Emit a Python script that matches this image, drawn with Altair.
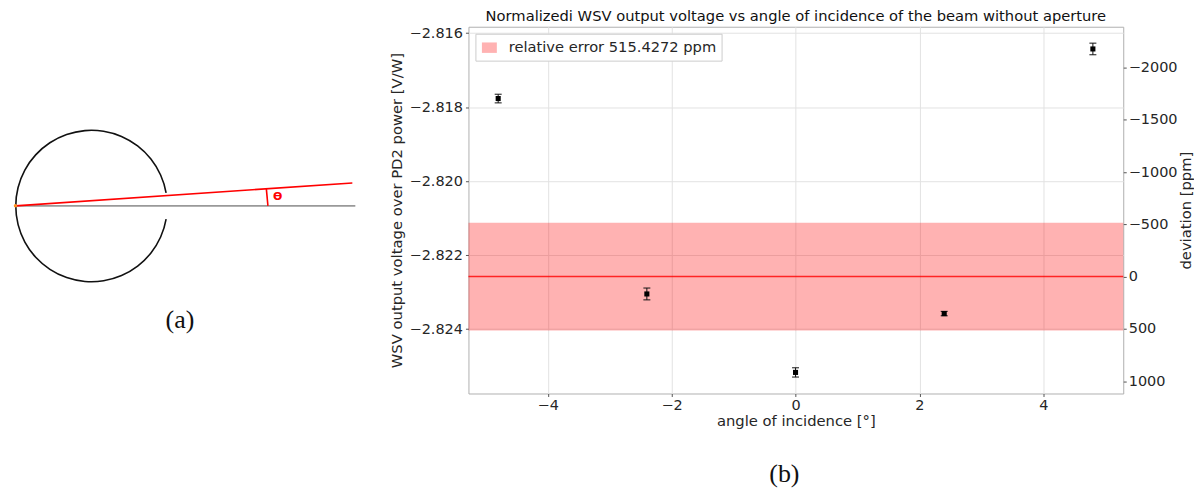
import altair as alt
import pandas as pd

# --- panel (b) data
angle = [-4.8, -2.4, 0.0, 2.4, 4.8]
voltage = [-2.81777, -2.82305, -2.82517, -2.82358, -2.81643]
err = [0.000117, 0.00016, 0.000125, 0.00006, 0.000157]
mean_v = -2.82258
rel_err_v = 0.001455
deviation = [-1698, 172, 923, 360, -2180]
x_dom = [-5.28, 5.29]
y_dom = [-2.82574, -2.81583]
ppm_dom = [1119, -2392]
legend_label = "relative error 515.4272 ppm"

# --- panel (a) data (diagram units)
gray_x = [15, 356]
gray_y = [205, 205]
red_x = [15, 353]
red_y = [205, 182]
ang_x = [266.7, 268.3]
ang_y = [187.7, 205]
circle_x = [91.3]
circle_y = [205.2]
diag_x = [8.5, 368.5]
diag_y = [393.3, 25.3]

TXT = "#262626"
GRID = "#e2e2e2"

pts = pd.DataFrame({"a": angle, "v": voltage, "e": err, "d": deviation})
pts["lo"] = pts.v - pts.e
pts["hi"] = pts.v + pts.e

xs = alt.Scale(domain=x_dom, nice=False, zero=False)
ys = alt.Scale(domain=y_dom, nice=False, zero=False)
xax = alt.Axis(title="angle of incidence [°]", grid=True, gridColor=GRID,
               values=[-4, -2, 0, 2, 4], format="d", tickColor="#555555", tickSize=3,
               domain=False, labelFontSize=14.5, titleFontSize=14.8, titleFontWeight="normal", labelPadding=2,
               titlePadding=2, labelColor=TXT, titleColor=TXT)
Xn = alt.X("a:Q", scale=xs, axis=xax)

base = alt.Chart(pts).mark_point(opacity=0).encode(
    x=Xn,
    y=alt.Y("v:Q", scale=ys, axis=alt.Axis(title="WSV output voltage over PD2 power [V/W]", grid=True, gridColor=GRID,
                                           values=[-2.816, -2.818, -2.82, -2.822, -2.824], format=".3f",
                                           tickColor="#555555", tickSize=3, domain=False, labelFontSize=14.5,
                                           titleFontSize=14.8, titleFontWeight="normal", labelPadding=3, titlePadding=5,
                                           labelColor=TXT, titleColor=TXT)),
)

band = alt.Chart(pd.DataFrame({"x": [x_dom[0]], "x2": [x_dom[1]], "y": [mean_v - rel_err_v], "y2": [mean_v + rel_err_v],
                               "k": [legend_label]})).mark_rect(opacity=0.3).encode(
    x=alt.X("x:Q", scale=xs, axis=xax), x2="x2:Q",
    y=alt.Y("y:Q", scale=ys, axis=None), y2="y2:Q",
    color=alt.Color("k:N", scale=alt.Scale(range=["#ff0000"]),
                    legend=alt.Legend(title=None, orient="none", legendX=7, legendY=7, fillColor="white",
                                      strokeColor="#cccccc", padding=5.5, labelFontSize=14.7, labelColor=TXT,
                                      labelLimit=400, symbolType="M-1,-0.7H1V0.7H-1Z", symbolSize=225,
                                      symbolOpacity=0.3, labelOffset=11, rowPadding=0)),
)

line = alt.Chart(pd.DataFrame({"x": x_dom, "y": [mean_v, mean_v]})).mark_line(color="#ff0000", opacity=0.8, strokeWidth=1.4).encode(
    x=alt.X("x:Q", scale=xs, axis=xax), y=alt.Y("y:Q", scale=ys, axis=None))

rule = alt.Chart(pts).mark_rule(color="#111111", strokeWidth=1).encode(
    x=Xn, y=alt.Y("lo:Q", scale=ys, axis=None), y2="hi:Q")
cap_lo = alt.Chart(pts).mark_tick(orient="horizontal", size=7, thickness=1, color="#111111", opacity=1).encode(
    x=Xn, y=alt.Y("lo:Q", scale=ys, axis=None))
cap_hi = alt.Chart(pts).mark_tick(orient="horizontal", size=7, thickness=1, color="#111111", opacity=1).encode(
    x=Xn, y=alt.Y("hi:Q", scale=ys, axis=None))
dots = alt.Chart(pts).mark_square(size=26, color="black", opacity=1).encode(
    x=Xn, y=alt.Y("v:Q", scale=ys, axis=None))

right = alt.Chart(pts).mark_point(opacity=0).encode(
    x=Xn,
    y=alt.Y("d:Q", scale=alt.Scale(domain=ppm_dom, nice=False, zero=False),
            axis=alt.Axis(orient="right", title="deviation [ppm]", titleAngle=270, grid=False,
                          values=[-2000, -1500, -1000, -500, 0, 500, 1000], format="d",
                          tickColor="#555555", tickSize=3, domain=False, labelFontSize=14.5, titleFontSize=14.8,
                          titleFontWeight="normal", labelPadding=2, titlePadding=16, labelColor=TXT, titleColor=TXT)),
)

cap_b = alt.Chart(pd.DataFrame({"x": [-0.18], "y": [-2.82792], "t": ["(b)"]})).mark_text(
    font="Liberation Serif", fontSize=26, color="#111111").encode(
    x=alt.X("x:Q", scale=xs, axis=xax), y=alt.Y("y:Q", scale=ys, axis=None), text="t:N")

main = alt.layer(base, band, line, rule, cap_lo, cap_hi, dots, right, cap_b).resolve_scale(y="independent").properties(
    width=657, height=368,
    view=alt.ViewConfig(stroke="#b0b0b0"),
    title=alt.TitleParams("Normalizedi WSV output voltage vs angle of incidence of the beam without aperture",
                          fontSize=14.75, fontWeight="normal", color="#111111", offset=1, anchor="middle"),
)

# --- panel (a)
dx = alt.Scale(domain=diag_x, nice=False, zero=False)
dy = alt.Scale(domain=diag_y, nice=False, zero=False)


def polyline(px, py, color, w):
    return alt.Chart(pd.DataFrame({"x": px, "y": py})).mark_line(color=color, strokeWidth=w).encode(
        x=alt.X("x:Q", scale=dx, axis=None), y=alt.Y("y:Q", scale=dy, axis=None))


circ = alt.Chart(pd.DataFrame({"x": circle_x, "y": circle_y})).mark_arc(
    radius=76.8, radius2=75.2, theta=1.745, theta2=7.679, color="#111111").encode(
    x=alt.X("x:Q", scale=dx, axis=None), y=alt.Y("y:Q", scale=dy, axis=None))
dot = alt.Chart(pd.DataFrame({"x": [15], "y": [205]})).mark_circle(size=12, color="#ff9020", opacity=1).encode(
    x=alt.X("x:Q", scale=dx, axis=None), y=alt.Y("y:Q", scale=dy, axis=None))
labels = alt.Chart(pd.DataFrame({"x": [278, 180], "y": [196.5, 320], "t": ["ϴ", "(a)"]}))
theta_txt = labels.transform_filter("datum.t == 'ϴ'").mark_text(fontSize=11, fontWeight="bold", color="#ff0000").encode(
    x=alt.X("x:Q", scale=dx, axis=None), y=alt.Y("y:Q", scale=dy, axis=None), text="t:N")
a_txt = labels.transform_filter("datum.t == '(a)'").mark_text(font="Liberation Serif", fontSize=26, color="#111111").encode(
    x=alt.X("x:Q", scale=dx, axis=None), y=alt.Y("y:Q", scale=dy, axis=None), text="t:N")

left = alt.layer(circ, polyline(gray_x, gray_y, "#999999", 1.8), polyline(red_x, red_y, "#ff0000", 1.6),
                 polyline(ang_x, ang_y, "#ff0000", 1.6), dot, theta_txt, a_txt).properties(
    width=360, height=368, view=alt.ViewConfig(stroke="transparent"))

chart = alt.hconcat(left, main, spacing=19).resolve_scale(color="independent").properties(padding=0).configure(
    font="DejaVu Sans")
chart.save("out.html", embed_options={"renderer": "svg", "actions": False})
